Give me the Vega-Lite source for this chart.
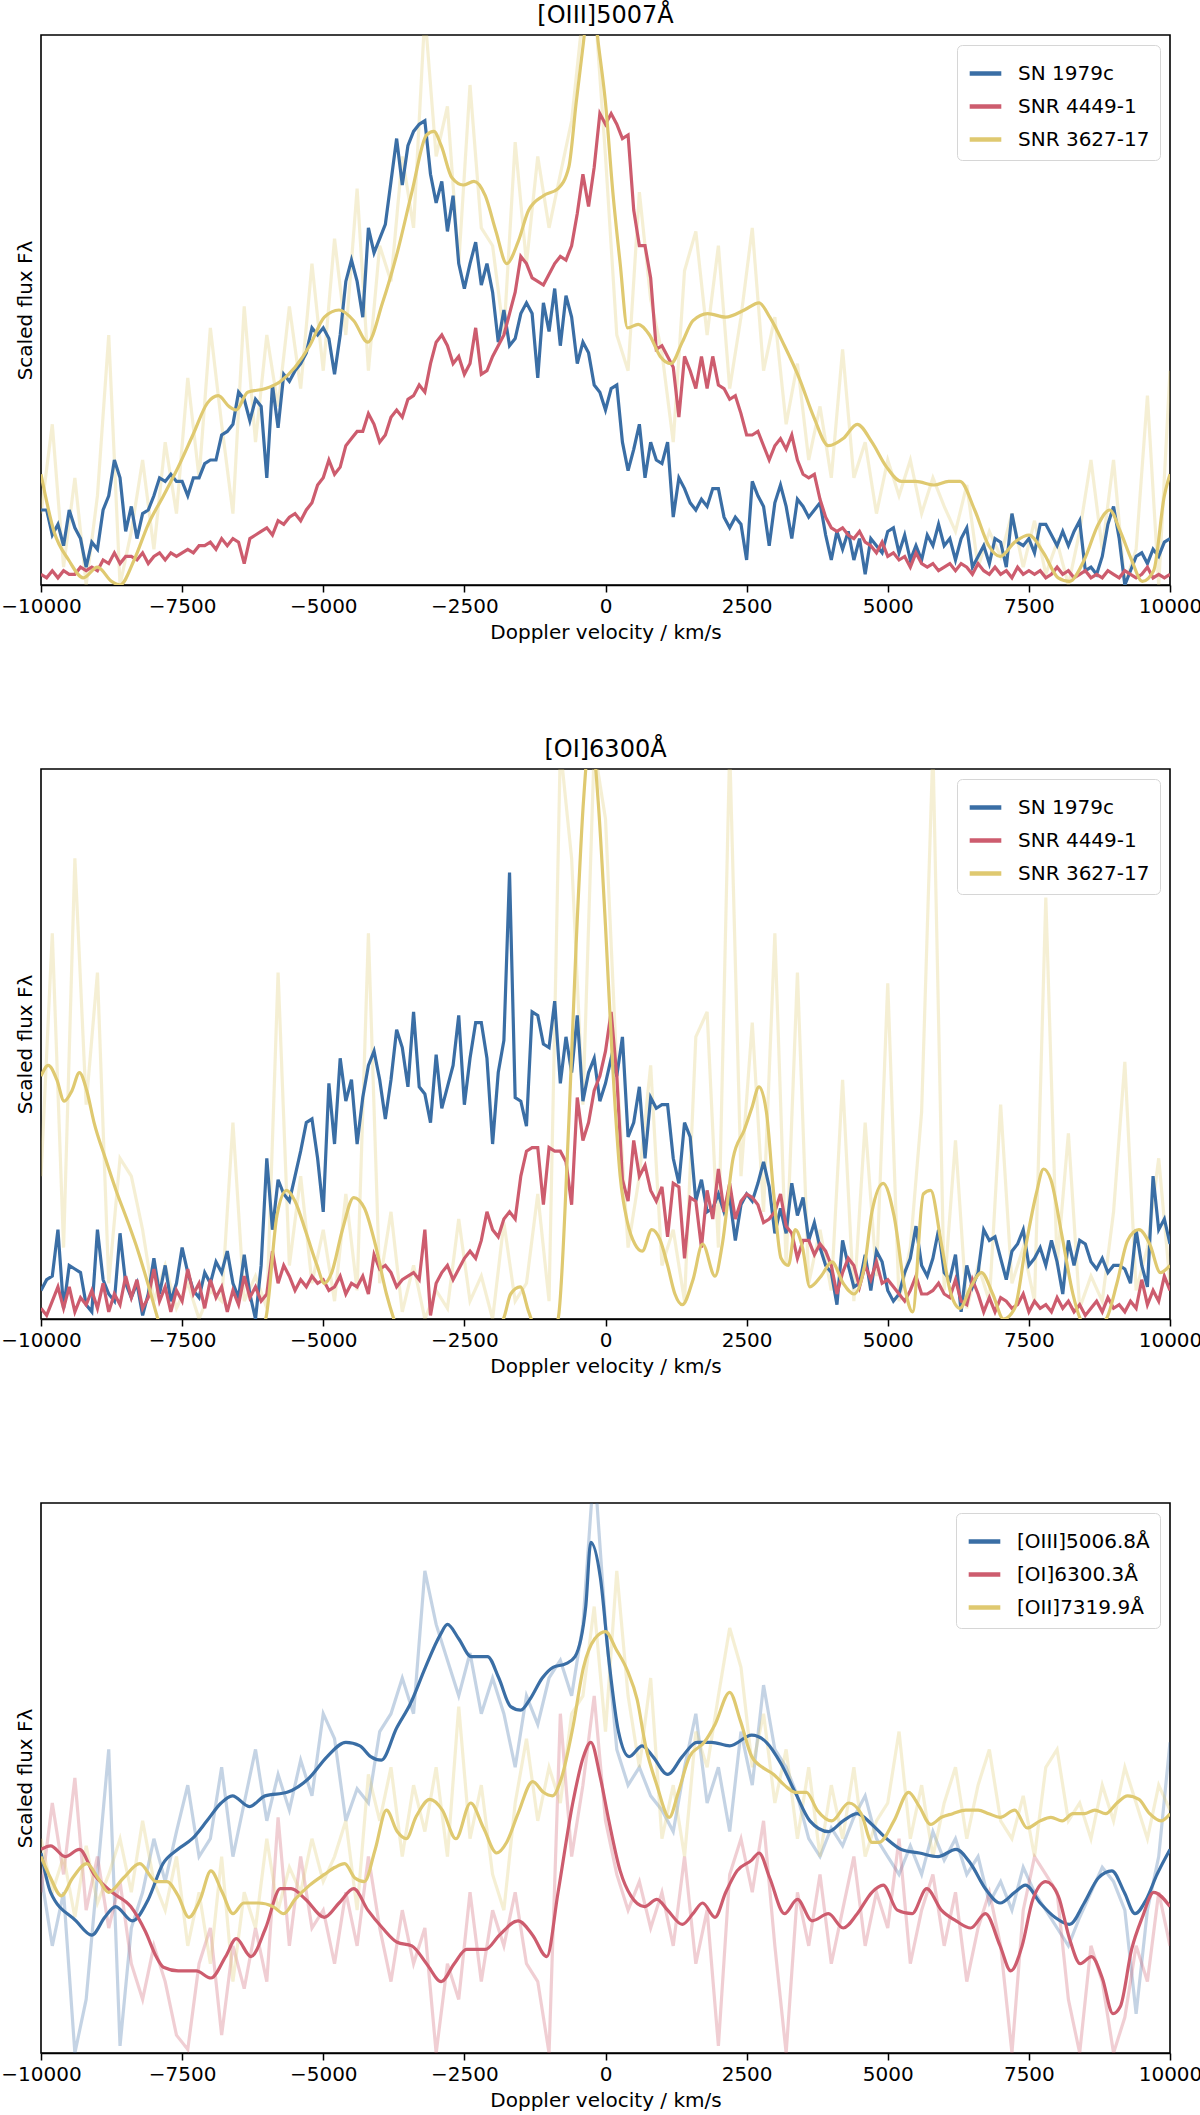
{
  "$schema": "https://vega.github.io/schema/vega-lite/v6.json",
  "padding": {"left": 0, "top": 3, "right": 0, "bottom": 0},
  "background": "white",
  "datasets": {
    "p1b": [{"x":-10000,"y":21},{"x":-9900,"y":21},{"x":-9800,"y":14},{"x":-9700,"y":17},{"x":-9600,"y":11},{"x":-9500,"y":21},{"x":-9400,"y":16},{"x":-9300,"y":13},{"x":-9200,"y":5},{"x":-9100,"y":12},{"x":-9000,"y":10},{"x":-8900,"y":21},{"x":-8800,"y":25},{"x":-8700,"y":35},{"x":-8600,"y":30},{"x":-8500,"y":15},{"x":-8400,"y":22},{"x":-8300,"y":13},{"x":-8200,"y":20},{"x":-8100,"y":21},{"x":-8000,"y":25},{"x":-7900,"y":30},{"x":-7800,"y":29},{"x":-7700,"y":31},{"x":-7600,"y":29},{"x":-7500,"y":29},{"x":-7400,"y":25},{"x":-7300,"y":30},{"x":-7200,"y":30},{"x":-7100,"y":34},{"x":-7000,"y":35},{"x":-6900,"y":35},{"x":-6800,"y":42},{"x":-6700,"y":43},{"x":-6600,"y":45},{"x":-6500,"y":54},{"x":-6400,"y":52},{"x":-6300,"y":46},{"x":-6200,"y":52},{"x":-6100,"y":50},{"x":-6000,"y":30},{"x":-5900,"y":56},{"x":-5800,"y":44},{"x":-5700,"y":59},{"x":-5600,"y":57},{"x":-5500,"y":60},{"x":-5400,"y":62},{"x":-5300,"y":65},{"x":-5200,"y":72},{"x":-5100,"y":70},{"x":-5000,"y":72},{"x":-4900,"y":69},{"x":-4800,"y":59},{"x":-4700,"y":70},{"x":-4600,"y":85},{"x":-4500,"y":91},{"x":-4400,"y":85},{"x":-4300,"y":75},{"x":-4200,"y":100},{"x":-4100,"y":93},{"x":-4000,"y":97},{"x":-3900,"y":101},{"x":-3800,"y":113},{"x":-3700,"y":125},{"x":-3600,"y":112},{"x":-3500,"y":123},{"x":-3400,"y":127},{"x":-3300,"y":129},{"x":-3200,"y":130},{"x":-3100,"y":115},{"x":-3000,"y":107},{"x":-2900,"y":113},{"x":-2800,"y":99},{"x":-2700,"y":109},{"x":-2600,"y":90},{"x":-2500,"y":83},{"x":-2400,"y":90},{"x":-2300,"y":96},{"x":-2200,"y":84},{"x":-2100,"y":90},{"x":-2000,"y":82},{"x":-1900,"y":68},{"x":-1800,"y":77},{"x":-1700,"y":67},{"x":-1600,"y":69},{"x":-1500,"y":76},{"x":-1400,"y":79},{"x":-1300,"y":76},{"x":-1200,"y":58},{"x":-1100,"y":79},{"x":-1000,"y":71},{"x":-900,"y":83},{"x":-800,"y":67},{"x":-700,"y":81},{"x":-600,"y":75},{"x":-500,"y":62},{"x":-400,"y":68},{"x":-300,"y":65},{"x":-200,"y":56},{"x":-100,"y":54},{"x":0,"y":49},{"x":100,"y":55},{"x":200,"y":56},{"x":300,"y":40},{"x":400,"y":32},{"x":500,"y":38},{"x":600,"y":45},{"x":700,"y":30},{"x":800,"y":40},{"x":900,"y":35},{"x":1000,"y":34},{"x":1100,"y":40},{"x":1200,"y":19},{"x":1300,"y":30},{"x":1400,"y":27},{"x":1500,"y":23},{"x":1600,"y":21},{"x":1700,"y":24},{"x":1800,"y":22},{"x":1900,"y":27},{"x":2000,"y":27},{"x":2100,"y":19},{"x":2200,"y":16},{"x":2300,"y":19},{"x":2400,"y":17},{"x":2500,"y":7},{"x":2600,"y":29},{"x":2700,"y":25},{"x":2800,"y":22},{"x":2900,"y":11},{"x":3000,"y":23},{"x":3100,"y":28},{"x":3200,"y":22},{"x":3300,"y":13},{"x":3400,"y":24},{"x":3500,"y":22},{"x":3600,"y":19},{"x":3700,"y":21},{"x":3800,"y":23},{"x":3900,"y":14},{"x":4000,"y":7},{"x":4100,"y":15},{"x":4200,"y":10},{"x":4300,"y":15},{"x":4400,"y":7},{"x":4500,"y":13},{"x":4600,"y":3},{"x":4700,"y":13},{"x":4800,"y":11},{"x":4900,"y":9},{"x":5000,"y":15},{"x":5100,"y":16},{"x":5200,"y":9},{"x":5300,"y":14},{"x":5400,"y":7},{"x":5500,"y":11},{"x":5600,"y":7},{"x":5700,"y":14},{"x":5800,"y":11},{"x":5900,"y":17},{"x":6000,"y":11},{"x":6100,"y":13},{"x":6200,"y":7},{"x":6300,"y":13},{"x":6400,"y":16},{"x":6500,"y":5},{"x":6600,"y":8},{"x":6700,"y":11},{"x":6800,"y":6},{"x":6900,"y":13},{"x":7000,"y":12},{"x":7100,"y":5},{"x":7200,"y":20},{"x":7300,"y":12},{"x":7400,"y":11},{"x":7500,"y":13},{"x":7600,"y":9},{"x":7700,"y":17},{"x":7800,"y":17},{"x":7900,"y":14},{"x":8000,"y":11},{"x":8100,"y":15},{"x":8200,"y":11},{"x":8300,"y":15},{"x":8400,"y":18},{"x":8500,"y":4},{"x":8600,"y":5},{"x":8700,"y":3},{"x":8800,"y":8},{"x":8900,"y":17},{"x":9000,"y":22},{"x":9100,"y":13},{"x":9200,"y":0},{"x":9300,"y":4},{"x":9400,"y":8},{"x":9500,"y":9},{"x":9600,"y":6},{"x":9700,"y":10},{"x":9800,"y":8},{"x":9900,"y":12},{"x":10000,"y":13}],
    "p1r": [{"x":-10000,"y":3},{"x":-9900,"y":2},{"x":-9800,"y":4},{"x":-9700,"y":2},{"x":-9600,"y":4},{"x":-9500,"y":3},{"x":-9400,"y":3},{"x":-9300,"y":5},{"x":-9200,"y":4},{"x":-9100,"y":5},{"x":-9000,"y":4},{"x":-8900,"y":7},{"x":-8800,"y":6},{"x":-8700,"y":9},{"x":-8600,"y":6},{"x":-8500,"y":8},{"x":-8400,"y":8},{"x":-8300,"y":7},{"x":-8200,"y":9},{"x":-8100,"y":6},{"x":-8000,"y":8},{"x":-7900,"y":9},{"x":-7800,"y":7},{"x":-7700,"y":9},{"x":-7600,"y":8},{"x":-7500,"y":9},{"x":-7400,"y":10},{"x":-7300,"y":9},{"x":-7200,"y":11},{"x":-7100,"y":11},{"x":-7000,"y":12},{"x":-6900,"y":10},{"x":-6800,"y":13},{"x":-6700,"y":11},{"x":-6600,"y":13},{"x":-6500,"y":12},{"x":-6400,"y":6},{"x":-6300,"y":13},{"x":-6200,"y":14},{"x":-6100,"y":15},{"x":-6000,"y":16},{"x":-5900,"y":14},{"x":-5800,"y":18},{"x":-5700,"y":17},{"x":-5600,"y":19},{"x":-5500,"y":20},{"x":-5400,"y":18},{"x":-5300,"y":21},{"x":-5200,"y":23},{"x":-5100,"y":28},{"x":-5000,"y":30},{"x":-4900,"y":35},{"x":-4800,"y":31},{"x":-4700,"y":33},{"x":-4600,"y":39},{"x":-4500,"y":41},{"x":-4400,"y":43},{"x":-4300,"y":43},{"x":-4200,"y":48},{"x":-4100,"y":45},{"x":-4000,"y":40},{"x":-3900,"y":42},{"x":-3800,"y":47},{"x":-3700,"y":49},{"x":-3600,"y":47},{"x":-3500,"y":52},{"x":-3400,"y":53},{"x":-3300,"y":56},{"x":-3200,"y":54},{"x":-3100,"y":62},{"x":-3000,"y":68},{"x":-2900,"y":70},{"x":-2800,"y":67},{"x":-2700,"y":62},{"x":-2600,"y":64},{"x":-2500,"y":59},{"x":-2400,"y":62},{"x":-2300,"y":72},{"x":-2200,"y":59},{"x":-2100,"y":60},{"x":-2000,"y":64},{"x":-1900,"y":67},{"x":-1800,"y":70},{"x":-1700,"y":76},{"x":-1600,"y":82},{"x":-1500,"y":92},{"x":-1400,"y":90},{"x":-1300,"y":86},{"x":-1200,"y":85},{"x":-1100,"y":84},{"x":-1000,"y":87},{"x":-900,"y":90},{"x":-800,"y":92},{"x":-700,"y":91},{"x":-600,"y":95},{"x":-500,"y":104},{"x":-400,"y":115},{"x":-300,"y":106},{"x":-200,"y":117},{"x":-100,"y":132},{"x":0,"y":129},{"x":100,"y":132},{"x":200,"y":129},{"x":300,"y":125},{"x":400,"y":126},{"x":500,"y":105},{"x":600,"y":95},{"x":700,"y":95},{"x":800,"y":86},{"x":900,"y":66},{"x":1000,"y":67},{"x":1100,"y":64},{"x":1200,"y":61},{"x":1300,"y":47},{"x":1400,"y":64},{"x":1500,"y":60},{"x":1600,"y":55},{"x":1700,"y":64},{"x":1800,"y":55},{"x":1900,"y":64},{"x":2000,"y":56},{"x":2100,"y":55},{"x":2200,"y":52},{"x":2300,"y":53},{"x":2400,"y":48},{"x":2500,"y":42},{"x":2600,"y":42},{"x":2700,"y":43},{"x":2800,"y":39},{"x":2900,"y":35},{"x":3000,"y":39},{"x":3100,"y":41},{"x":3200,"y":38},{"x":3300,"y":42},{"x":3400,"y":35},{"x":3500,"y":31},{"x":3600,"y":30},{"x":3700,"y":31},{"x":3800,"y":24},{"x":3900,"y":19},{"x":4000,"y":16},{"x":4100,"y":15},{"x":4200,"y":16},{"x":4300,"y":14},{"x":4400,"y":13},{"x":4500,"y":15},{"x":4600,"y":12},{"x":4700,"y":11},{"x":4800,"y":9},{"x":4900,"y":12},{"x":5000,"y":8},{"x":5100,"y":9},{"x":5200,"y":7},{"x":5300,"y":8},{"x":5400,"y":5},{"x":5500,"y":9},{"x":5600,"y":6},{"x":5700,"y":5},{"x":5800,"y":6},{"x":5900,"y":4},{"x":6000,"y":5},{"x":6100,"y":6},{"x":6200,"y":4},{"x":6300,"y":6},{"x":6400,"y":5},{"x":6500,"y":3},{"x":6600,"y":6},{"x":6700,"y":4},{"x":6800,"y":3},{"x":6900,"y":5},{"x":7000,"y":3},{"x":7100,"y":4},{"x":7200,"y":2},{"x":7300,"y":5},{"x":7400,"y":3},{"x":7500,"y":4},{"x":7600,"y":3},{"x":7700,"y":4},{"x":7800,"y":2},{"x":7900,"y":3},{"x":8000,"y":5},{"x":8100,"y":3},{"x":8200,"y":4},{"x":8300,"y":2},{"x":8400,"y":3},{"x":8500,"y":4},{"x":8600,"y":2},{"x":8700,"y":3},{"x":8800,"y":2},{"x":8900,"y":4},{"x":9000,"y":3},{"x":9100,"y":2},{"x":9200,"y":4},{"x":9300,"y":3},{"x":9400,"y":2},{"x":9500,"y":3},{"x":9600,"y":5},{"x":9700,"y":2},{"x":9800,"y":3},{"x":9900,"y":2},{"x":10000,"y":3}],
    "p1yf": [{"x":-10000,"y":20},{"x":-9800,"y":45},{"x":-9600,"y":5},{"x":-9400,"y":30},{"x":-9200,"y":0},{"x":-9000,"y":25},{"x":-8800,"y":70},{"x":-8600,"y":0},{"x":-8400,"y":15},{"x":-8200,"y":35},{"x":-8000,"y":10},{"x":-7800,"y":40},{"x":-7600,"y":20},{"x":-7400,"y":58},{"x":-7200,"y":30},{"x":-7000,"y":72},{"x":-6800,"y":45},{"x":-6600,"y":20},{"x":-6400,"y":78},{"x":-6200,"y":40},{"x":-6000,"y":70},{"x":-5800,"y":50},{"x":-5600,"y":78},{"x":-5400,"y":55},{"x":-5200,"y":90},{"x":-5000,"y":60},{"x":-4800,"y":97},{"x":-4600,"y":70},{"x":-4400,"y":111},{"x":-4200,"y":60},{"x":-4000,"y":95},{"x":-3800,"y":85},{"x":-3600,"y":120},{"x":-3400,"y":100},{"x":-3200,"y":160},{"x":-3000,"y":120},{"x":-2800,"y":134},{"x":-2600,"y":90},{"x":-2400,"y":140},{"x":-2200,"y":100},{"x":-2000,"y":95},{"x":-1800,"y":70},{"x":-1600,"y":124},{"x":-1400,"y":90},{"x":-1200,"y":120},{"x":-1000,"y":100},{"x":-800,"y":115},{"x":-600,"y":130},{"x":-400,"y":160},{"x":-200,"y":165},{"x":0,"y":120},{"x":200,"y":70},{"x":400,"y":60},{"x":600,"y":110},{"x":800,"y":80},{"x":1000,"y":65},{"x":1200,"y":40},{"x":1400,"y":88},{"x":1600,"y":99},{"x":1800,"y":70},{"x":2000,"y":95},{"x":2200,"y":55},{"x":2400,"y":75},{"x":2600,"y":100},{"x":2800,"y":60},{"x":3000,"y":75},{"x":3200,"y":45},{"x":3400,"y":62},{"x":3600,"y":35},{"x":3800,"y":50},{"x":4000,"y":30},{"x":4200,"y":66},{"x":4400,"y":30},{"x":4600,"y":40},{"x":4800,"y":20},{"x":5000,"y":35},{"x":5200,"y":25},{"x":5400,"y":35},{"x":5600,"y":20},{"x":5800,"y":30},{"x":6000,"y":22},{"x":6200,"y":15},{"x":6400,"y":28},{"x":6600,"y":5},{"x":6800,"y":15},{"x":7000,"y":8},{"x":7200,"y":20},{"x":7400,"y":5},{"x":7600,"y":18},{"x":7800,"y":3},{"x":8000,"y":12},{"x":8200,"y":0},{"x":8400,"y":15},{"x":8600,"y":35},{"x":8800,"y":10},{"x":9000,"y":35},{"x":9200,"y":0},{"x":9400,"y":10},{"x":9600,"y":53},{"x":9800,"y":0},{"x":10000,"y":60}],
    "p1ys": [{"x":-10000,"y":31},{"x":-9770,"y":15},{"x":-9510,"y":7},{"x":-9250,"y":2},{"x":-9000,"y":5},{"x":-8750,"y":1},{"x":-8600,"y":0},{"x":-8350,"y":7},{"x":-8100,"y":17},{"x":-7830,"y":25},{"x":-7570,"y":33},{"x":-7310,"y":42},{"x":-7050,"y":51},{"x":-6860,"y":53},{"x":-6670,"y":50},{"x":-6540,"y":49},{"x":-6340,"y":54},{"x":-6020,"y":55},{"x":-5760,"y":57},{"x":-5500,"y":61},{"x":-5240,"y":67},{"x":-4980,"y":75},{"x":-4720,"y":77},{"x":-4460,"y":74},{"x":-4210,"y":68},{"x":-3950,"y":79},{"x":-3690,"y":93},{"x":-3430,"y":110},{"x":-3170,"y":126},{"x":-3040,"y":127},{"x":-2910,"y":123},{"x":-2720,"y":114},{"x":-2520,"y":112},{"x":-2330,"y":113},{"x":-2130,"y":109},{"x":-1940,"y":99},{"x":-1750,"y":90},{"x":-1550,"y":96},{"x":-1360,"y":105},{"x":-1100,"y":109},{"x":-840,"y":111},{"x":-650,"y":117},{"x":-520,"y":135},{"x":-390,"y":152},{"x":-260,"y":170},{"x":-130,"y":152},{"x":0,"y":135},{"x":130,"y":110},{"x":260,"y":90},{"x":390,"y":72},{"x":580,"y":73},{"x":780,"y":70},{"x":970,"y":64},{"x":1160,"y":62},{"x":1360,"y":68},{"x":1550,"y":74},{"x":1810,"y":76},{"x":2130,"y":75},{"x":2460,"y":77},{"x":2720,"y":79},{"x":2910,"y":75},{"x":3170,"y":67},{"x":3430,"y":58},{"x":3690,"y":47},{"x":3950,"y":39},{"x":4210,"y":41},{"x":4460,"y":45},{"x":4720,"y":40},{"x":4980,"y":33},{"x":5240,"y":29},{"x":5500,"y":29},{"x":5820,"y":28},{"x":6080,"y":29},{"x":6280,"y":29},{"x":6540,"y":21},{"x":6790,"y":11},{"x":6990,"y":8},{"x":7250,"y":12},{"x":7500,"y":14},{"x":7760,"y":9},{"x":8020,"y":2},{"x":8220,"y":1},{"x":8480,"y":7},{"x":8730,"y":17},{"x":8930,"y":21},{"x":9120,"y":15},{"x":9320,"y":7},{"x":9510,"y":1},{"x":9710,"y":4},{"x":9900,"y":25},{"x":10000,"y":31}],
    "p2b": [{"x":-10000,"y":8},{"x":-9900,"y":11},{"x":-9800,"y":12},{"x":-9700,"y":25},{"x":-9600,"y":3},{"x":-9500,"y":15},{"x":-9400,"y":14},{"x":-9300,"y":13},{"x":-9200,"y":4},{"x":-9100,"y":2},{"x":-9000,"y":25},{"x":-8900,"y":11},{"x":-8800,"y":7},{"x":-8700,"y":5},{"x":-8600,"y":24},{"x":-8500,"y":10},{"x":-8400,"y":6},{"x":-8300,"y":10},{"x":-8200,"y":1},{"x":-8100,"y":7},{"x":-8000,"y":17},{"x":-7900,"y":7},{"x":-7800,"y":15},{"x":-7700,"y":5},{"x":-7600,"y":10},{"x":-7500,"y":20},{"x":-7400,"y":13},{"x":-7300,"y":8},{"x":-7200,"y":6},{"x":-7100,"y":13},{"x":-7000,"y":10},{"x":-6900,"y":16},{"x":-6800,"y":13},{"x":-6700,"y":19},{"x":-6600,"y":10},{"x":-6500,"y":6},{"x":-6400,"y":18},{"x":-6300,"y":7},{"x":-6200,"y":0},{"x":-6100,"y":15},{"x":-6000,"y":45},{"x":-5900,"y":25},{"x":-5800,"y":39},{"x":-5700,"y":35},{"x":-5600,"y":33},{"x":-5500,"y":40},{"x":-5400,"y":47},{"x":-5300,"y":55},{"x":-5200,"y":56},{"x":-5100,"y":45},{"x":-5000,"y":30},{"x":-4900,"y":66},{"x":-4800,"y":49},{"x":-4700,"y":73},{"x":-4600,"y":61},{"x":-4500,"y":67},{"x":-4400,"y":49},{"x":-4300,"y":62},{"x":-4200,"y":71},{"x":-4100,"y":75},{"x":-4000,"y":67},{"x":-3900,"y":56},{"x":-3800,"y":67},{"x":-3700,"y":81},{"x":-3600,"y":76},{"x":-3500,"y":65},{"x":-3400,"y":86},{"x":-3300,"y":65},{"x":-3200,"y":63},{"x":-3100,"y":55},{"x":-3000,"y":74},{"x":-2900,"y":59},{"x":-2800,"y":65},{"x":-2700,"y":71},{"x":-2600,"y":85},{"x":-2500,"y":60},{"x":-2400,"y":73},{"x":-2300,"y":83},{"x":-2200,"y":83},{"x":-2100,"y":73},{"x":-2000,"y":49},{"x":-1900,"y":69},{"x":-1800,"y":78},{"x":-1700,"y":125},{"x":-1600,"y":62},{"x":-1500,"y":61},{"x":-1400,"y":54},{"x":-1300,"y":86},{"x":-1200,"y":85},{"x":-1100,"y":77},{"x":-1000,"y":76},{"x":-900,"y":89},{"x":-800,"y":66},{"x":-700,"y":79},{"x":-600,"y":69},{"x":-500,"y":85},{"x":-400,"y":61},{"x":-300,"y":69},{"x":-200,"y":73},{"x":-100,"y":61},{"x":0,"y":66},{"x":100,"y":73},{"x":200,"y":68},{"x":300,"y":79},{"x":400,"y":51},{"x":500,"y":55},{"x":600,"y":65},{"x":700,"y":45},{"x":800,"y":62},{"x":900,"y":59},{"x":1000,"y":60},{"x":1100,"y":60},{"x":1200,"y":45},{"x":1300,"y":38},{"x":1400,"y":55},{"x":1500,"y":51},{"x":1600,"y":33},{"x":1700,"y":39},{"x":1800,"y":30},{"x":1900,"y":31},{"x":2000,"y":35},{"x":2100,"y":30},{"x":2200,"y":34},{"x":2300,"y":22},{"x":2400,"y":32},{"x":2500,"y":35},{"x":2600,"y":33},{"x":2700,"y":38},{"x":2800,"y":44},{"x":2900,"y":37},{"x":3000,"y":24},{"x":3100,"y":31},{"x":3200,"y":24},{"x":3300,"y":38},{"x":3400,"y":29},{"x":3500,"y":34},{"x":3600,"y":22},{"x":3700,"y":27},{"x":3800,"y":20},{"x":3900,"y":15},{"x":4000,"y":13},{"x":4100,"y":4},{"x":4200,"y":22},{"x":4300,"y":15},{"x":4400,"y":9},{"x":4500,"y":10},{"x":4600,"y":18},{"x":4700,"y":8},{"x":4800,"y":19},{"x":4900,"y":16},{"x":5000,"y":8},{"x":5100,"y":5},{"x":5200,"y":7},{"x":5300,"y":13},{"x":5400,"y":17},{"x":5500,"y":26},{"x":5600,"y":15},{"x":5700,"y":12},{"x":5800,"y":17},{"x":5900,"y":25},{"x":6000,"y":13},{"x":6100,"y":11},{"x":6200,"y":18},{"x":6300,"y":2},{"x":6400,"y":15},{"x":6500,"y":9},{"x":6600,"y":13},{"x":6700,"y":25},{"x":6800,"y":22},{"x":6900,"y":23},{"x":7000,"y":17},{"x":7100,"y":11},{"x":7200,"y":19},{"x":7300,"y":21},{"x":7400,"y":25},{"x":7500,"y":15},{"x":7600,"y":17},{"x":7700,"y":20},{"x":7800,"y":15},{"x":7900,"y":22},{"x":8000,"y":16},{"x":8100,"y":7},{"x":8200,"y":22},{"x":8300,"y":15},{"x":8400,"y":22},{"x":8500,"y":21},{"x":8600,"y":16},{"x":8700,"y":14},{"x":8800,"y":17},{"x":8900,"y":13},{"x":9000,"y":15},{"x":9100,"y":15},{"x":9200,"y":14},{"x":9300,"y":10},{"x":9400,"y":25},{"x":9500,"y":15},{"x":9600,"y":9},{"x":9700,"y":40},{"x":9800,"y":25},{"x":9900,"y":28},{"x":10000,"y":21}],
    "p2r": [{"x":-10000,"y":3},{"x":-9900,"y":1},{"x":-9800,"y":5},{"x":-9700,"y":9},{"x":-9600,"y":3},{"x":-9500,"y":9},{"x":-9400,"y":2},{"x":-9300,"y":6},{"x":-9200,"y":4},{"x":-9100,"y":8},{"x":-9000,"y":3},{"x":-8900,"y":10},{"x":-8800,"y":2},{"x":-8700,"y":7},{"x":-8600,"y":4},{"x":-8500,"y":12},{"x":-8400,"y":6},{"x":-8300,"y":11},{"x":-8200,"y":3},{"x":-8100,"y":6},{"x":-8000,"y":14},{"x":-7900,"y":5},{"x":-7800,"y":9},{"x":-7700,"y":2},{"x":-7600,"y":8},{"x":-7500,"y":5},{"x":-7400,"y":14},{"x":-7300,"y":7},{"x":-7200,"y":10},{"x":-7100,"y":3},{"x":-7000,"y":11},{"x":-6900,"y":6},{"x":-6800,"y":9},{"x":-6700,"y":2},{"x":-6600,"y":8},{"x":-6500,"y":4},{"x":-6400,"y":12},{"x":-6300,"y":6},{"x":-6200,"y":9},{"x":-6100,"y":5},{"x":-6000,"y":7},{"x":-5900,"y":19},{"x":-5800,"y":10},{"x":-5700,"y":15},{"x":-5600,"y":12},{"x":-5500,"y":8},{"x":-5400,"y":11},{"x":-5300,"y":9},{"x":-5200,"y":12},{"x":-5100,"y":10},{"x":-5000,"y":11},{"x":-4900,"y":8},{"x":-4800,"y":9},{"x":-4700,"y":12},{"x":-4600,"y":7},{"x":-4500,"y":10},{"x":-4400,"y":9},{"x":-4300,"y":12},{"x":-4200,"y":7},{"x":-4100,"y":18},{"x":-4000,"y":14},{"x":-3900,"y":15},{"x":-3800,"y":13},{"x":-3700,"y":9},{"x":-3600,"y":11},{"x":-3500,"y":12},{"x":-3400,"y":13},{"x":-3300,"y":11},{"x":-3200,"y":25},{"x":-3100,"y":1},{"x":-3000,"y":10},{"x":-2900,"y":13},{"x":-2800,"y":15},{"x":-2700,"y":11},{"x":-2600,"y":14},{"x":-2500,"y":17},{"x":-2400,"y":19},{"x":-2300,"y":17},{"x":-2200,"y":22},{"x":-2100,"y":30},{"x":-2000,"y":25},{"x":-1900,"y":23},{"x":-1800,"y":28},{"x":-1700,"y":30},{"x":-1600,"y":28},{"x":-1500,"y":40},{"x":-1400,"y":47},{"x":-1300,"y":48},{"x":-1200,"y":48},{"x":-1100,"y":32},{"x":-1000,"y":48},{"x":-900,"y":47},{"x":-800,"y":47},{"x":-700,"y":44},{"x":-600,"y":32},{"x":-500,"y":62},{"x":-400,"y":50},{"x":-300,"y":55},{"x":-200,"y":64},{"x":-100,"y":68},{"x":0,"y":75},{"x":100,"y":86},{"x":200,"y":68},{"x":300,"y":39},{"x":400,"y":33},{"x":500,"y":50},{"x":600,"y":40},{"x":700,"y":43},{"x":800,"y":36},{"x":900,"y":33},{"x":1000,"y":37},{"x":1100,"y":23},{"x":1200,"y":38},{"x":1300,"y":37},{"x":1400,"y":17},{"x":1500,"y":34},{"x":1600,"y":33},{"x":1700,"y":20},{"x":1800,"y":36},{"x":1900,"y":28},{"x":2000,"y":42},{"x":2100,"y":30},{"x":2200,"y":38},{"x":2300,"y":28},{"x":2400,"y":33},{"x":2500,"y":35},{"x":2600,"y":34},{"x":2700,"y":32},{"x":2800,"y":27},{"x":2900,"y":28},{"x":3000,"y":30},{"x":3100,"y":35},{"x":3200,"y":26},{"x":3300,"y":24},{"x":3400,"y":17},{"x":3500,"y":22},{"x":3600,"y":22},{"x":3700,"y":18},{"x":3800,"y":21},{"x":3900,"y":19},{"x":4000,"y":15},{"x":4100,"y":7},{"x":4200,"y":13},{"x":4300,"y":17},{"x":4400,"y":15},{"x":4500,"y":9},{"x":4600,"y":15},{"x":4700,"y":11},{"x":4800,"y":16},{"x":4900,"y":10},{"x":5000,"y":11},{"x":5100,"y":9},{"x":5200,"y":7},{"x":5300,"y":5},{"x":5400,"y":8},{"x":5500,"y":12},{"x":5600,"y":7},{"x":5700,"y":7},{"x":5800,"y":8},{"x":5900,"y":10},{"x":6000,"y":7},{"x":6100,"y":6},{"x":6200,"y":11},{"x":6300,"y":5},{"x":6400,"y":4},{"x":6500,"y":11},{"x":6600,"y":7},{"x":6700,"y":2},{"x":6800,"y":6},{"x":6900,"y":2},{"x":7000,"y":6},{"x":7100,"y":5},{"x":7200,"y":3},{"x":7300,"y":4},{"x":7400,"y":7},{"x":7500,"y":2},{"x":7600,"y":5},{"x":7700,"y":3},{"x":7800,"y":4},{"x":7900,"y":2},{"x":8000,"y":6},{"x":8100,"y":3},{"x":8200,"y":5},{"x":8300,"y":2},{"x":8400,"y":4},{"x":8500,"y":1},{"x":8600,"y":3},{"x":8700,"y":5},{"x":8800,"y":2},{"x":8900,"y":6},{"x":9000,"y":3},{"x":9100,"y":4},{"x":9200,"y":2},{"x":9300,"y":5},{"x":9400,"y":3},{"x":9500,"y":11},{"x":9600,"y":4},{"x":9700,"y":8},{"x":9800,"y":5},{"x":9900,"y":12},{"x":10000,"y":8}],
    "p2yf": [{"x":-10000,"y":40},{"x":-9800,"y":108},{"x":-9600,"y":20},{"x":-9400,"y":129},{"x":-9200,"y":60},{"x":-9000,"y":97},{"x":-8800,"y":10},{"x":-8600,"y":45},{"x":-8400,"y":40},{"x":-8200,"y":25},{"x":-8000,"y":5},{"x":-7800,"y":15},{"x":-7600,"y":3},{"x":-7400,"y":10},{"x":-7200,"y":0},{"x":-7000,"y":8},{"x":-6800,"y":5},{"x":-6600,"y":55},{"x":-6400,"y":5},{"x":-6200,"y":12},{"x":-6000,"y":3},{"x":-5800,"y":97},{"x":-5600,"y":15},{"x":-5400,"y":40},{"x":-5200,"y":10},{"x":-5000,"y":25},{"x":-4800,"y":5},{"x":-4600,"y":35},{"x":-4400,"y":8},{"x":-4200,"y":108},{"x":-4000,"y":10},{"x":-3800,"y":30},{"x":-3600,"y":2},{"x":-3400,"y":15},{"x":-3200,"y":0},{"x":-3000,"y":8},{"x":-2800,"y":3},{"x":-2600,"y":28},{"x":-2400,"y":5},{"x":-2200,"y":12},{"x":-2000,"y":0},{"x":-1800,"y":27},{"x":-1600,"y":5},{"x":-1400,"y":10},{"x":-1200,"y":35},{"x":-1000,"y":5},{"x":-800,"y":160},{"x":-600,"y":129},{"x":-400,"y":60},{"x":-200,"y":160},{"x":0,"y":140},{"x":200,"y":70},{"x":400,"y":20},{"x":600,"y":40},{"x":800,"y":71},{"x":1000,"y":15},{"x":1200,"y":25},{"x":1400,"y":5},{"x":1600,"y":79},{"x":1800,"y":86},{"x":2000,"y":20},{"x":2200,"y":160},{"x":2400,"y":40},{"x":2600,"y":83},{"x":2800,"y":30},{"x":3000,"y":108},{"x":3200,"y":15},{"x":3400,"y":97},{"x":3600,"y":10},{"x":3800,"y":25},{"x":4000,"y":8},{"x":4200,"y":67},{"x":4400,"y":5},{"x":4600,"y":55},{"x":4800,"y":12},{"x":5000,"y":94},{"x":5200,"y":5},{"x":5400,"y":20},{"x":5600,"y":58},{"x":5800,"y":160},{"x":6000,"y":8},{"x":6200,"y":50},{"x":6400,"y":3},{"x":6600,"y":15},{"x":6800,"y":5},{"x":7000,"y":60},{"x":7200,"y":10},{"x":7400,"y":20},{"x":7600,"y":5},{"x":7800,"y":118},{"x":8000,"y":15},{"x":8200,"y":52},{"x":8400,"y":3},{"x":8600,"y":12},{"x":8800,"y":5},{"x":9000,"y":30},{"x":9200,"y":72},{"x":9400,"y":8},{"x":9600,"y":20},{"x":9800,"y":45},{"x":10000,"y":10}],
    "p2ys": [{"x":-10000,"y":68},{"x":-9870,"y":71},{"x":-9720,"y":67},{"x":-9590,"y":61},{"x":-9450,"y":64},{"x":-9320,"y":69},{"x":-9190,"y":64},{"x":-9060,"y":55},{"x":-8860,"y":45},{"x":-8670,"y":36},{"x":-8480,"y":28},{"x":-8280,"y":19},{"x":-8090,"y":9},{"x":-7890,"y":-2},{"x":-7500,"y":-15},{"x":-7000,"y":-22},{"x":-6500,"y":-15},{"x":-6200,"y":-5},{"x":-6020,"y":0},{"x":-5820,"y":29},{"x":-5650,"y":36},{"x":-5500,"y":33},{"x":-5300,"y":24},{"x":-5110,"y":15},{"x":-4980,"y":10},{"x":-4850,"y":13},{"x":-4660,"y":25},{"x":-4460,"y":34},{"x":-4270,"y":31},{"x":-4080,"y":21},{"x":-3880,"y":7},{"x":-3750,"y":0},{"x":-3400,"y":-12},{"x":-3000,"y":-18},{"x":-2500,"y":-12},{"x":-2100,"y":-4},{"x":-1810,"y":0},{"x":-1680,"y":7},{"x":-1510,"y":9},{"x":-1360,"y":2},{"x":-1200,"y":-4},{"x":-1000,"y":-5},{"x":-840,"y":0},{"x":-650,"y":55},{"x":-520,"y":105},{"x":-390,"y":145},{"x":-260,"y":165},{"x":-130,"y":145},{"x":0,"y":110},{"x":130,"y":70},{"x":260,"y":40},{"x":390,"y":27},{"x":520,"y":21},{"x":650,"y":19},{"x":820,"y":25},{"x":970,"y":22},{"x":1100,"y":15},{"x":1230,"y":7},{"x":1360,"y":4},{"x":1550,"y":11},{"x":1720,"y":21},{"x":1940,"y":12},{"x":2070,"y":21},{"x":2260,"y":45},{"x":2460,"y":53},{"x":2590,"y":59},{"x":2720,"y":65},{"x":2850,"y":58},{"x":2980,"y":35},{"x":3110,"y":17},{"x":3240,"y":15},{"x":3360,"y":25},{"x":3490,"y":20},{"x":3620,"y":9},{"x":3820,"y":12},{"x":4010,"y":16},{"x":4210,"y":10},{"x":4400,"y":7},{"x":4590,"y":15},{"x":4720,"y":30},{"x":4920,"y":38},{"x":5110,"y":29},{"x":5310,"y":8},{"x":5440,"y":2},{"x":5630,"y":35},{"x":5760,"y":36},{"x":5950,"y":21},{"x":6120,"y":7},{"x":6280,"y":3},{"x":6470,"y":9},{"x":6660,"y":13},{"x":6860,"y":7},{"x":7050,"y":0},{"x":7250,"y":3},{"x":7440,"y":20},{"x":7630,"y":35},{"x":7760,"y":42},{"x":7890,"y":39},{"x":8090,"y":23},{"x":8280,"y":7},{"x":8410,"y":0},{"x":8550,"y":-3},{"x":8700,"y":-2},{"x":8870,"y":0},{"x":9060,"y":10},{"x":9250,"y":22},{"x":9450,"y":25},{"x":9640,"y":21},{"x":9830,"y":13},{"x":10000,"y":15}],
    "p3bf": [{"x":-10000,"y":50},{"x":-9800,"y":30},{"x":-9600,"y":45},{"x":-9400,"y":0},{"x":-9200,"y":15},{"x":-9000,"y":50},{"x":-8800,"y":85},{"x":-8600,"y":2},{"x":-8400,"y":35},{"x":-8200,"y":45},{"x":-8000,"y":60},{"x":-7800,"y":48},{"x":-7600,"y":62},{"x":-7400,"y":75},{"x":-7200,"y":55},{"x":-7000,"y":60},{"x":-6800,"y":80},{"x":-6600,"y":55},{"x":-6400,"y":70},{"x":-6200,"y":85},{"x":-6000,"y":65},{"x":-5800,"y":78},{"x":-5600,"y":68},{"x":-5400,"y":82},{"x":-5200,"y":72},{"x":-5000,"y":95},{"x":-4800,"y":88},{"x":-4600,"y":65},{"x":-4400,"y":74},{"x":-4200,"y":70},{"x":-4000,"y":90},{"x":-3800,"y":95},{"x":-3600,"y":105},{"x":-3400,"y":95},{"x":-3200,"y":135},{"x":-3000,"y":120},{"x":-2800,"y":110},{"x":-2600,"y":100},{"x":-2400,"y":112},{"x":-2200,"y":95},{"x":-2000,"y":105},{"x":-1800,"y":95},{"x":-1600,"y":80},{"x":-1400,"y":100},{"x":-1200,"y":92},{"x":-1000,"y":105},{"x":-800,"y":110},{"x":-600,"y":100},{"x":-400,"y":120},{"x":-200,"y":165},{"x":0,"y":120},{"x":200,"y":85},{"x":400,"y":75},{"x":600,"y":80},{"x":800,"y":72},{"x":1000,"y":68},{"x":1200,"y":62},{"x":1400,"y":80},{"x":1600,"y":95},{"x":1800,"y":70},{"x":2000,"y":80},{"x":2200,"y":62},{"x":2400,"y":90},{"x":2600,"y":75},{"x":2800,"y":103},{"x":3000,"y":85},{"x":3200,"y":80},{"x":3400,"y":72},{"x":3600,"y":60},{"x":3800,"y":55},{"x":4000,"y":63},{"x":4200,"y":58},{"x":4400,"y":66},{"x":4600,"y":72},{"x":4800,"y":60},{"x":5000,"y":55},{"x":5200,"y":50},{"x":5400,"y":58},{"x":5600,"y":50},{"x":5800,"y":62},{"x":6000,"y":54},{"x":6200,"y":60},{"x":6400,"y":50},{"x":6600,"y":55},{"x":6800,"y":42},{"x":7000,"y":48},{"x":7200,"y":40},{"x":7400,"y":52},{"x":7600,"y":45},{"x":7800,"y":40},{"x":8000,"y":35},{"x":8200,"y":30},{"x":8400,"y":38},{"x":8600,"y":45},{"x":8800,"y":52},{"x":9000,"y":48},{"x":9200,"y":40},{"x":9400,"y":11},{"x":9600,"y":40},{"x":9800,"y":55},{"x":10000,"y":87}],
    "p3rf": [{"x":-10000,"y":45},{"x":-9800,"y":70},{"x":-9600,"y":50},{"x":-9400,"y":77},{"x":-9200,"y":40},{"x":-9000,"y":55},{"x":-8800,"y":35},{"x":-8600,"y":48},{"x":-8400,"y":25},{"x":-8200,"y":15},{"x":-8000,"y":30},{"x":-7800,"y":20},{"x":-7600,"y":5},{"x":-7400,"y":1},{"x":-7200,"y":25},{"x":-7000,"y":35},{"x":-6800,"y":5},{"x":-6600,"y":30},{"x":-6400,"y":18},{"x":-6200,"y":35},{"x":-6000,"y":20},{"x":-5800,"y":66},{"x":-5600,"y":30},{"x":-5400,"y":55},{"x":-5200,"y":35},{"x":-5000,"y":40},{"x":-4800,"y":25},{"x":-4600,"y":45},{"x":-4400,"y":30},{"x":-4200,"y":55},{"x":-4000,"y":35},{"x":-3800,"y":20},{"x":-3600,"y":40},{"x":-3400,"y":25},{"x":-3200,"y":35},{"x":-3000,"y":0},{"x":-2800,"y":25},{"x":-2600,"y":15},{"x":-2400,"y":45},{"x":-2200,"y":20},{"x":-2000,"y":40},{"x":-1800,"y":30},{"x":-1600,"y":45},{"x":-1400,"y":25},{"x":-1200,"y":20},{"x":-1000,"y":0},{"x":-800,"y":95},{"x":-600,"y":55},{"x":-400,"y":75},{"x":-200,"y":100},{"x":0,"y":65},{"x":200,"y":50},{"x":400,"y":40},{"x":600,"y":48},{"x":800,"y":35},{"x":1000,"y":45},{"x":1200,"y":30},{"x":1400,"y":55},{"x":1600,"y":25},{"x":1800,"y":40},{"x":2000,"y":2},{"x":2200,"y":50},{"x":2400,"y":60},{"x":2600,"y":45},{"x":2800,"y":65},{"x":3000,"y":30},{"x":3200,"y":0},{"x":3400,"y":45},{"x":3600,"y":30},{"x":3800,"y":50},{"x":4000,"y":25},{"x":4200,"y":40},{"x":4400,"y":55},{"x":4600,"y":30},{"x":4800,"y":45},{"x":5000,"y":35},{"x":5200,"y":60},{"x":5400,"y":25},{"x":5600,"y":40},{"x":5800,"y":50},{"x":6000,"y":30},{"x":6200,"y":45},{"x":6400,"y":20},{"x":6600,"y":35},{"x":6800,"y":45},{"x":7000,"y":30},{"x":7200,"y":0},{"x":7400,"y":40},{"x":7600,"y":55},{"x":7800,"y":50},{"x":8000,"y":45},{"x":8200,"y":15},{"x":8400,"y":0},{"x":8600,"y":30},{"x":8800,"y":20},{"x":9000,"y":0},{"x":9200,"y":10},{"x":9400,"y":30},{"x":9600,"y":20},{"x":9800,"y":45},{"x":10000,"y":30}],
    "p3yf": [{"x":-10000,"y":60},{"x":-9800,"y":45},{"x":-9600,"y":55},{"x":-9400,"y":38},{"x":-9200,"y":58},{"x":-9000,"y":42},{"x":-8800,"y":50},{"x":-8600,"y":60},{"x":-8400,"y":45},{"x":-8200,"y":65},{"x":-8000,"y":48},{"x":-7800,"y":40},{"x":-7600,"y":55},{"x":-7400,"y":30},{"x":-7200,"y":45},{"x":-7000,"y":25},{"x":-6800,"y":55},{"x":-6600,"y":20},{"x":-6400,"y":45},{"x":-6200,"y":35},{"x":-6000,"y":60},{"x":-5800,"y":40},{"x":-5600,"y":52},{"x":-5400,"y":45},{"x":-5200,"y":60},{"x":-5000,"y":48},{"x":-4800,"y":55},{"x":-4600,"y":65},{"x":-4400,"y":40},{"x":-4200,"y":78},{"x":-4000,"y":65},{"x":-3800,"y":80},{"x":-3600,"y":55},{"x":-3400,"y":75},{"x":-3200,"y":62},{"x":-3000,"y":80},{"x":-2800,"y":55},{"x":-2600,"y":97},{"x":-2400,"y":60},{"x":-2200,"y":75},{"x":-2000,"y":50},{"x":-1800,"y":40},{"x":-1600,"y":70},{"x":-1400,"y":88},{"x":-1200,"y":65},{"x":-1000,"y":80},{"x":-800,"y":70},{"x":-600,"y":95},{"x":-400,"y":100},{"x":-200,"y":125},{"x":0,"y":90},{"x":200,"y":135},{"x":400,"y":100},{"x":600,"y":80},{"x":800,"y":105},{"x":1000,"y":60},{"x":1200,"y":75},{"x":1400,"y":55},{"x":1600,"y":90},{"x":1800,"y":80},{"x":2000,"y":100},{"x":2200,"y":119},{"x":2400,"y":108},{"x":2600,"y":80},{"x":2800,"y":95},{"x":3000,"y":70},{"x":3200,"y":85},{"x":3400,"y":60},{"x":3600,"y":80},{"x":3800,"y":55},{"x":4000,"y":75},{"x":4200,"y":60},{"x":4400,"y":80},{"x":4600,"y":55},{"x":4800,"y":65},{"x":5000,"y":70},{"x":5200,"y":90},{"x":5400,"y":60},{"x":5600,"y":75},{"x":5800,"y":55},{"x":6000,"y":70},{"x":6200,"y":80},{"x":6400,"y":60},{"x":6600,"y":75},{"x":6800,"y":85},{"x":7000,"y":65},{"x":7200,"y":60},{"x":7400,"y":72},{"x":7600,"y":55},{"x":7800,"y":80},{"x":8000,"y":85},{"x":8200,"y":65},{"x":8400,"y":70},{"x":8600,"y":60},{"x":8800,"y":75},{"x":9000,"y":65},{"x":9200,"y":80},{"x":9400,"y":70},{"x":9600,"y":60},{"x":9800,"y":75},{"x":10000,"y":68}],
    "p3bs": [{"x":-10000,"y":56},{"x":-9830,"y":45},{"x":-9380,"y":37},{"x":-9100,"y":33},{"x":-8870,"y":38},{"x":-8680,"y":41},{"x":-8380,"y":37},{"x":-8100,"y":43},{"x":-7840,"y":53},{"x":-7580,"y":57},{"x":-7320,"y":60},{"x":-7060,"y":65},{"x":-6810,"y":70},{"x":-6610,"y":72},{"x":-6310,"y":69},{"x":-6030,"y":72},{"x":-5640,"y":73},{"x":-5250,"y":77},{"x":-4930,"y":83},{"x":-4600,"y":87},{"x":-4350,"y":86},{"x":-4160,"y":83},{"x":-3970,"y":82},{"x":-3700,"y":91},{"x":-3450,"y":98},{"x":-3190,"y":108},{"x":-2930,"y":117},{"x":-2800,"y":120},{"x":-2600,"y":116},{"x":-2380,"y":111},{"x":-2090,"y":111},{"x":-1890,"y":105},{"x":-1680,"y":97},{"x":-1500,"y":96},{"x":-1340,"y":99},{"x":-1120,"y":105},{"x":-930,"y":108},{"x":-700,"y":109},{"x":-540,"y":111},{"x":-350,"y":125},{"x":-260,"y":143},{"x":-90,"y":133},{"x":60,"y":110},{"x":230,"y":90},{"x":420,"y":83},{"x":650,"y":86},{"x":840,"y":83},{"x":1100,"y":78},{"x":1360,"y":83},{"x":1620,"y":87},{"x":1880,"y":87},{"x":2200,"y":86},{"x":2590,"y":89},{"x":2850,"y":87},{"x":3110,"y":81},{"x":3360,"y":73},{"x":3620,"y":65},{"x":3950,"y":62},{"x":4210,"y":65},{"x":4460,"y":67},{"x":4720,"y":64},{"x":4980,"y":60},{"x":5240,"y":57},{"x":5560,"y":56},{"x":5890,"y":55},{"x":6210,"y":57},{"x":6470,"y":53},{"x":6730,"y":46},{"x":6990,"y":42},{"x":7250,"y":45},{"x":7440,"y":47},{"x":7700,"y":42},{"x":7960,"y":38},{"x":8220,"y":36},{"x":8480,"y":42},{"x":8730,"y":49},{"x":8970,"y":51},{"x":9190,"y":45},{"x":9380,"y":39},{"x":9580,"y":43},{"x":9770,"y":50},{"x":10000,"y":57}],
    "p3rs": [{"x":-10000,"y":57},{"x":-9830,"y":58},{"x":-9570,"y":55},{"x":-9320,"y":57},{"x":-9060,"y":50},{"x":-8740,"y":45},{"x":-8410,"y":41},{"x":-8150,"y":34},{"x":-7960,"y":27},{"x":-7830,"y":24},{"x":-7570,"y":23},{"x":-7250,"y":23},{"x":-6990,"y":21},{"x":-6730,"y":27},{"x":-6540,"y":32},{"x":-6280,"y":27},{"x":-6020,"y":35},{"x":-5760,"y":46},{"x":-5570,"y":46},{"x":-5310,"y":43},{"x":-4980,"y":38},{"x":-4720,"y":42},{"x":-4460,"y":46},{"x":-4210,"y":40},{"x":-3950,"y":35},{"x":-3690,"y":31},{"x":-3430,"y":30},{"x":-3170,"y":25},{"x":-2910,"y":20},{"x":-2680,"y":25},{"x":-2460,"y":29},{"x":-2130,"y":29},{"x":-1880,"y":33},{"x":-1550,"y":37},{"x":-1290,"y":33},{"x":-1040,"y":27},{"x":-840,"y":45},{"x":-580,"y":70},{"x":-390,"y":83},{"x":-260,"y":87},{"x":-90,"y":77},{"x":60,"y":65},{"x":260,"y":51},{"x":450,"y":44},{"x":690,"y":41},{"x":910,"y":43},{"x":1100,"y":40},{"x":1360,"y":36},{"x":1550,"y":39},{"x":1720,"y":42},{"x":1940,"y":38},{"x":2130,"y":45},{"x":2330,"y":51},{"x":2590,"y":54},{"x":2720,"y":56},{"x":2910,"y":49},{"x":3170,"y":39},{"x":3400,"y":43},{"x":3660,"y":37},{"x":3950,"y":39},{"x":4210,"y":35},{"x":4460,"y":39},{"x":4720,"y":45},{"x":4920,"y":47},{"x":5170,"y":40},{"x":5430,"y":39},{"x":5690,"y":46},{"x":5950,"y":40},{"x":6210,"y":37},{"x":6470,"y":35},{"x":6730,"y":39},{"x":6990,"y":30},{"x":7180,"y":23},{"x":7380,"y":30},{"x":7570,"y":43},{"x":7800,"y":48},{"x":8020,"y":44},{"x":8220,"y":32},{"x":8410,"y":25},{"x":8610,"y":27},{"x":8800,"y":21},{"x":8990,"y":11},{"x":9120,"y":13},{"x":9320,"y":29},{"x":9510,"y":38},{"x":9710,"y":45},{"x":10000,"y":41}],
    "p3ys": [{"x":-10000,"y":55},{"x":-9830,"y":49},{"x":-9640,"y":44},{"x":-9440,"y":49},{"x":-9190,"y":53},{"x":-8990,"y":49},{"x":-8800,"y":45},{"x":-8540,"y":49},{"x":-8250,"y":53},{"x":-7960,"y":48},{"x":-7770,"y":48},{"x":-7570,"y":44},{"x":-7380,"y":38},{"x":-7180,"y":43},{"x":-6990,"y":51},{"x":-6790,"y":45},{"x":-6600,"y":39},{"x":-6410,"y":42},{"x":-6150,"y":42},{"x":-5890,"y":41},{"x":-5700,"y":39},{"x":-5500,"y":43},{"x":-5240,"y":47},{"x":-4980,"y":50},{"x":-4790,"y":52},{"x":-4620,"y":53},{"x":-4440,"y":49},{"x":-4270,"y":48},{"x":-4080,"y":57},{"x":-3880,"y":68},{"x":-3690,"y":62},{"x":-3530,"y":60},{"x":-3360,"y":66},{"x":-3110,"y":71},{"x":-2890,"y":68},{"x":-2650,"y":60},{"x":-2390,"y":70},{"x":-2160,"y":63},{"x":-1930,"y":56},{"x":-1750,"y":59},{"x":-1550,"y":67},{"x":-1290,"y":76},{"x":-1100,"y":73},{"x":-940,"y":72},{"x":-780,"y":77},{"x":-580,"y":91},{"x":-390,"y":108},{"x":-190,"y":116},{"x":0,"y":118},{"x":190,"y":113},{"x":390,"y":107},{"x":560,"y":99},{"x":710,"y":86},{"x":910,"y":75},{"x":1130,"y":66},{"x":1290,"y":73},{"x":1490,"y":83},{"x":1750,"y":87},{"x":1940,"y":92},{"x":2200,"y":101},{"x":2390,"y":93},{"x":2590,"y":83},{"x":2780,"y":80},{"x":2980,"y":78},{"x":3170,"y":75},{"x":3360,"y":73},{"x":3560,"y":73},{"x":3750,"y":68},{"x":4010,"y":65},{"x":4310,"y":70},{"x":4530,"y":67},{"x":4720,"y":59},{"x":4850,"y":59},{"x":5110,"y":65},{"x":5370,"y":73},{"x":5560,"y":69},{"x":5760,"y":64},{"x":5950,"y":66},{"x":6150,"y":67},{"x":6380,"y":68},{"x":6600,"y":68},{"x":6790,"y":67},{"x":6990,"y":66},{"x":7250,"y":68},{"x":7470,"y":63},{"x":7700,"y":65},{"x":7890,"y":66},{"x":8090,"y":65},{"x":8280,"y":67},{"x":8480,"y":67},{"x":8670,"y":68},{"x":8860,"y":67},{"x":9060,"y":70},{"x":9250,"y":72},{"x":9450,"y":71},{"x":9640,"y":67},{"x":9840,"y":65},{"x":10000,"y":67}]
  },
  "vconcat": [
    {
      "width": 1129,
      "height": 550,
      "title": "[OIII]5007Å",
      "encoding": {
        "x": {"field": "x", "type": "quantitative", "scale": {"domain": [-10000, 10000], "nice": false}, "title": "Doppler velocity / km/s", "axis": {"values": [-10000, -7500, -5000, -2500, 0, 2500, 5000, 7500, 10000], "format": "d"}},
        "y": {"field": "y", "type": "quantitative", "scale": {"domain": [0, 154], "nice": false, "zero": false}, "title": "Scaled flux Fλ"}
      },
      "layer": [
        {"data": {"name": "p1yf"}, "mark": {"type": "line", "strokeWidth": 3.2, "opacity": 0.3, "clip": true},
         "encoding": {"color": {"datum": "y", "type": "nominal", "scale": {"domain": ["b", "r", "y"]}, "legend": {"title": null, "labelExpr": "datum.label == 'b' ? 'SN 1979c' : datum.label == 'r' ? 'SNR 4449-1' : 'SNR 3627-17'"}}}},
        {"data": {"name": "p1b"}, "mark": {"type": "line", "strokeWidth": 3.2, "clip": true},
         "encoding": {"color": {"datum": "b", "type": "nominal", "scale": {"domain": ["b", "r", "y"]}}}},
        {"data": {"name": "p1r"}, "mark": {"type": "line", "strokeWidth": 3.2, "clip": true},
         "encoding": {"color": {"datum": "r", "type": "nominal", "scale": {"domain": ["b", "r", "y"]}}}},
        {"data": {"name": "p1ys"}, "mark": {"type": "line", "strokeWidth": 3.2, "clip": true, "interpolate": "monotone"},
         "encoding": {"color": {"datum": "y", "type": "nominal", "scale": {"domain": ["b", "r", "y"]}}}}
      ]
    },
    {
      "width": 1129,
      "height": 550,
      "title": "[OI]6300Å",
      "encoding": {
        "x": {"field": "x", "type": "quantitative", "scale": {"domain": [-10000, 10000], "nice": false}, "title": "Doppler velocity / km/s", "axis": {"values": [-10000, -7500, -5000, -2500, 0, 2500, 5000, 7500, 10000], "format": "d"}},
        "y": {"field": "y", "type": "quantitative", "scale": {"domain": [0, 154], "nice": false, "zero": false}, "title": "Scaled flux Fλ"}
      },
      "layer": [
        {"data": {"name": "p2yf"}, "mark": {"type": "line", "strokeWidth": 3.2, "opacity": 0.3, "clip": true},
         "encoding": {"color": {"datum": "y", "type": "nominal", "scale": {"domain": ["b", "r", "y"]}, "legend": {"title": null, "labelExpr": "datum.label == 'b' ? 'SN 1979c' : datum.label == 'r' ? 'SNR 4449-1' : 'SNR 3627-17'"}}}},
        {"data": {"name": "p2b"}, "mark": {"type": "line", "strokeWidth": 3.2, "clip": true},
         "encoding": {"color": {"datum": "b", "type": "nominal", "scale": {"domain": ["b", "r", "y"]}}}},
        {"data": {"name": "p2r"}, "mark": {"type": "line", "strokeWidth": 3.2, "clip": true},
         "encoding": {"color": {"datum": "r", "type": "nominal", "scale": {"domain": ["b", "r", "y"]}}}},
        {"data": {"name": "p2ys"}, "mark": {"type": "line", "strokeWidth": 3.2, "clip": true, "interpolate": "monotone"},
         "encoding": {"color": {"datum": "y", "type": "nominal", "scale": {"domain": ["b", "r", "y"]}}}}
      ]
    },
    {
      "width": 1129,
      "height": 550,
      "encoding": {
        "x": {"field": "x", "type": "quantitative", "scale": {"domain": [-10000, 10000], "nice": false}, "title": "Doppler velocity / km/s", "axis": {"values": [-10000, -7500, -5000, -2500, 0, 2500, 5000, 7500, 10000], "format": "d"}},
        "y": {"field": "y", "type": "quantitative", "scale": {"domain": [0, 154], "nice": false, "zero": false}, "title": "Scaled flux Fλ"}
      },
      "layer": [
        {"data": {"name": "p3bf"}, "mark": {"type": "line", "strokeWidth": 3.2, "opacity": 0.3, "clip": true},
         "encoding": {"color": {"datum": "b", "type": "nominal", "scale": {"domain": ["b", "r", "y"]}, "legend": {"title": null, "labelExpr": "datum.label == 'b' ? '[OIII]5006.8Å' : datum.label == 'r' ? '[OI]6300.3Å' : '[OII]7319.9Å'"}}}},
        {"data": {"name": "p3rf"}, "mark": {"type": "line", "strokeWidth": 3.2, "opacity": 0.3, "clip": true},
         "encoding": {"color": {"datum": "r", "type": "nominal", "scale": {"domain": ["b", "r", "y"]}}}},
        {"data": {"name": "p3yf"}, "mark": {"type": "line", "strokeWidth": 3.2, "opacity": 0.3, "clip": true},
         "encoding": {"color": {"datum": "y", "type": "nominal", "scale": {"domain": ["b", "r", "y"]}}}},
        {"data": {"name": "p3bs"}, "mark": {"type": "line", "strokeWidth": 3.2, "clip": true, "interpolate": "monotone"},
         "encoding": {"color": {"datum": "b", "type": "nominal", "scale": {"domain": ["b", "r", "y"]}}}},
        {"data": {"name": "p3rs"}, "mark": {"type": "line", "strokeWidth": 3.2, "clip": true, "interpolate": "monotone"},
         "encoding": {"color": {"datum": "r", "type": "nominal", "scale": {"domain": ["b", "r", "y"]}}}},
        {"data": {"name": "p3ys"}, "mark": {"type": "line", "strokeWidth": 3.2, "clip": true, "interpolate": "monotone"},
         "encoding": {"color": {"datum": "y", "type": "nominal", "scale": {"domain": ["b", "r", "y"]}}}}
      ]
    }
  ],
  "spacing": 184,
  "bounds": "flush",
  "resolve": {"scale": {"color": "independent"}, "legend": {"color": "independent"}},
  "config": {
    "font": "DejaVu Sans",
    "view": {"stroke": "black", "strokeWidth": 1.6},
    "range": {"category": ["#3A6EA5", "#CD5C6E", "#DFC970"]},
    "title": {"fontSize": 24, "fontWeight": "normal", "color": "black", "offset": 7, "anchor": "middle", "font": "DejaVu Sans"},
    "axisX": {"grid": false, "tickSize": 7, "tickWidth": 1.5, "tickColor": "black", "domainColor": "black", "domainWidth": 1.6, "labelFontSize": 20, "labelColor": "black", "labelPadding": 4, "labelFlush": false, "titleFontSize": 20, "titleFontWeight": "normal", "titleColor": "black", "titlePadding": 6},
    "axisY": {"labels": false, "ticks": false, "domain": false, "grid": false, "titleFontSize": 20, "titleFontWeight": "normal", "titleColor": "black", "titlePadding": 6},
    "legend": {"orient": "top-right", "offset": 10, "fillColor": "white", "strokeColor": "#d6d6d6", "cornerRadius": 5, "padding": 10, "labelFontSize": 20, "labelColor": "black", "labelOffset": 14, "symbolType": "stroke", "symbolStrokeWidth": 4.5, "symbolSize": 1000, "symbolOpacity": 1, "rowPadding": 4}
  }
}
